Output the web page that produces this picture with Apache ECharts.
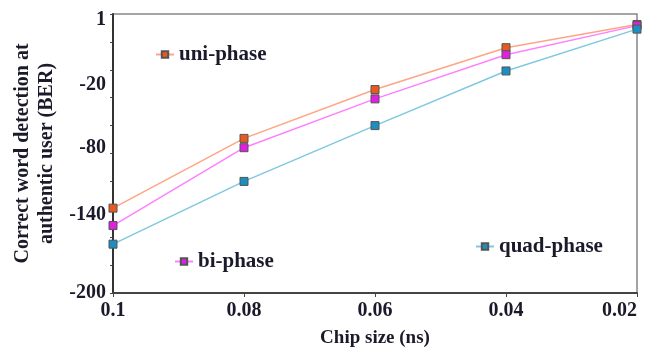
<!DOCTYPE html>
<html><head><meta charset="utf-8">
<script src="https://cdn.jsdelivr.net/npm/echarts@6/dist/echarts.min.js"></script>
<style>html,body{margin:0;padding:0;background:#fff}#c{width:650px;height:349px}</style>
</head><body><div id="c"></div>
<script>
const categories = ['0.1', '0.08', '0.06', '0.04', '0.02'];
const uniPhase  = [-127, -67, -25, 11, 31];
const biPhase   = [-142, -75, -33, 5, 30];
const quadPhase = [-158, -104, -56, -9, 27];
// tick labels as printed, and where they sit along the axis in the reference
const yLabelValues = [-200, -133, -75, -21, 35];
const yLabelTexts  = ['-200', '-140', '-80', '-20', '1'];
const yTickValues = [-200, -176, -152, -128, -104, -80, -56, -32, -8, 16, 40];

const font = "'Liberation Serif','Times New Roman',serif";
const txt = '#1a1a2a';
const chart = echarts.init(document.getElementById('c'));
function ser(name, data, line, mark) {
  return {
    name, type: 'line', data, symbol: 'rect', symbolSize: 8,
    lineStyle: { color: line, width: 1.5 },
    itemStyle: { color: mark, borderColor: '#555', borderWidth: 1 },
    emphasis: { disabled: true }, animation: false
  };
}
function leg(name, left, top) {
  return {
    data: [name], left, top, itemWidth: 18, itemHeight: 8, itemGap: 4,
    textStyle: { fontFamily: font, fontWeight: 'bold', fontSize: 21, color: txt },
    selectedMode: false
  };
}
chart.setOption({
  animation: false,
  grid: { left: 113, right: 13, top: 14, bottom: 56, show: true, borderColor: '#888', borderWidth: 1.5,
          outerBoundsMode: 'none', containLabel: false },
  legend: [leg('uni-phase', 150, 39), leg('bi-phase', 169, 246), leg('quad-phase', 470, 231)],
  xAxis: {
    type: 'category', data: categories, boundaryGap: false,
    axisLine: { onZero: false, lineStyle: { color: '#444', width: 2 } },
    axisTick: { show: true, length: 4, lineStyle: { color: '#444' } },
    axisLabel: { fontFamily: font, fontWeight: 'bold', fontSize: 20, color: txt, margin: 8, alignMaxLabel: 'right' },
    name: 'Chip size (ns)', nameLocation: 'middle', nameGap: 36,
    nameTextStyle: { fontFamily: font, fontWeight: 'bold', fontSize: 19, color: txt }
  },
  yAxis: {
    type: 'value', min: -200, max: 40,
    splitLine: { show: false },
    axisLine: { show: true, lineStyle: { color: '#333', width: 2 } },
    axisTick: { show: true, length: 3, customValues: yTickValues, lineStyle: { color: '#444' } },
    axisLabel: {
      customValues: yLabelValues, fontFamily: font, fontWeight: 'bold', fontSize: 20, color: txt, margin: 7,
      formatter: v => yLabelTexts[yLabelValues.indexOf(v)]
    },
    name: 'Correct word detection at\nauthentic user (BER)', nameLocation: 'middle', nameGap: 49,
    nameTextStyle: { fontFamily: font, fontWeight: 'bold', fontSize: 20, color: txt, lineHeight: 24 }
  },
  series: [
    ser('uni-phase', uniPhase, '#ffa585', '#e85a20'),
    ser('bi-phase', biPhase, '#ff80ff', '#e020e0'),
    ser('quad-phase', quadPhase, '#80c8e0', '#1a8fc0')
  ]
});
</script></body></html>
